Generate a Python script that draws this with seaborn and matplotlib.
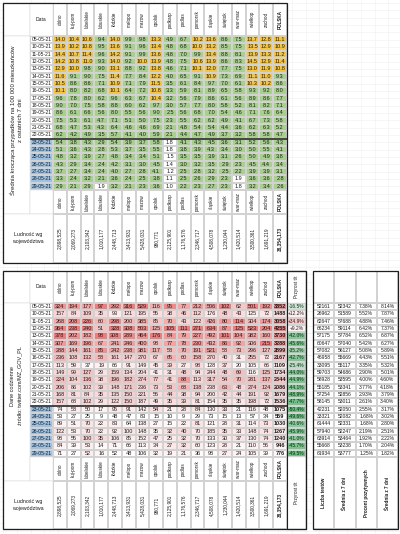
import matplotlib

matplotlib.use("Agg")
import matplotlib.pyplot as plt
import numpy as np
import seaborn as sns
from matplotlib.colors import LinearSegmentedColormap, ListedColormap, TwoSlopeNorm
from matplotlib.patches import Rectangle

# --------------------------------------------------------------------------- #
# Data
# --------------------------------------------------------------------------- #
dates = ["05-05-21", "10-05-21", "11-05-21", "12-05-21", "13-05-21", "14-05-21",
         "15-05-21", "16-05-21", "17-05-21", "18-05-21", "19-05-21", "20-05-21",
         "21-05-21", "22-05-21", "23-05-21", "24-05-21", "25-05-21", "26-05-21",
         "27-05-21", "28-05-21", "29-05-21"]
regions = ["dolno", "kuj-pom", "lubelskie", "lubuskie", "łódzkie", "małopo", "mazow",
           "opolsk", "podkarp", "podlas", "pomorsk", "śląskie", "świętok", "war-maz",
           "wielkop", "zachod", "POLSKA"]
population = ["2,898,525", "2,069,273", "2,103,342", "1,010,177", "2,448,713",
              "3,413,931", "5,428,031", "980,771", "2,125,901", "1,176,576",
              "2,346,717", "4,508,078", "1,230,044", "1,420,514", "3,500,361",
              "1,691,219", "38,354,173"]

# 7-day average of cases per 100k inhabitants (last column = POLSKA)
avg7_per100k = [
    [14.0, 10.4, 10.6, 9.4, 14.0, 9.9, 9.8, 13.3, 4.9, 6.7, 10.2, 13.6, 8.6, 7.5, 13.7, 12.8, 11.1],
    [13.9, 10.2, 10.8, 9.5, 13.6, 9.1, 9.6, 13.4, 4.8, 6.8, 10.0, 13.2, 8.5, 7.5, 13.5, 12.9, 10.9],
    [14.4, 10.7, 11.4, 9.6, 14.2, 9.1, 9.9, 13.6, 4.8, 7.0, 9.9, 13.4, 8.8, 8.1, 13.9, 13.3, 11.2],
    [14.2, 10.8, 11.0, 9.3, 14.0, 9.2, 10.0, 13.9, 4.8, 7.5, 10.6, 13.9, 8.6, 8.3, 14.5, 12.9, 11.4],
    [12.9, 10.0, 9.8, 9.0, 13.1, 8.8, 9.2, 13.8, 4.6, 7.1, 10.1, 12.0, 7.7, 7.5, 13.0, 11.9, 10.8],
    [11.6, 9.1, 9.0, 7.5, 11.4, 7.7, 8.4, 12.2, 4.0, 6.5, 9.1, 10.9, 7.3, 6.9, 11.1, 11.0, 9.3],
    [10.5, 8.6, 8.6, 7.1, 10.9, 7.1, 7.9, 11.5, 3.5, 6.1, 8.4, 9.7, 7.0, 6.1, 10.3, 10.2, 8.6],
    [10.1, 8.0, 8.2, 6.8, 10.1, 6.4, 7.2, 10.8, 3.3, 5.9, 8.1, 8.9, 6.5, 5.8, 9.3, 9.2, 8.0],
    [9.6, 7.8, 8.0, 6.2, 9.6, 6.3, 6.7, 10.4, 3.2, 5.6, 7.9, 8.6, 6.1, 5.6, 8.9, 8.6, 7.7],
    [9.0, 7.0, 7.5, 5.8, 8.8, 6.0, 6.2, 9.7, 3.0, 5.7, 7.7, 8.0, 5.8, 5.2, 8.1, 8.2, 7.1],
    [8.6, 6.1, 6.6, 5.6, 8.0, 5.5, 5.6, 9.0, 2.5, 5.6, 6.8, 7.0, 5.4, 4.6, 7.1, 7.6, 6.4],
    [7.5, 5.3, 6.1, 4.7, 7.1, 5.1, 5.0, 7.5, 2.3, 5.5, 6.2, 6.2, 4.9, 4.1, 6.7, 7.3, 5.8],
    [6.8, 4.7, 5.3, 4.3, 6.4, 4.6, 4.6, 6.9, 2.1, 4.8, 5.4, 5.4, 4.4, 3.6, 6.2, 6.3, 5.2],
    [6.2, 4.2, 4.9, 3.5, 5.7, 4.1, 4.0, 5.9, 2.1, 4.4, 4.7, 4.9, 3.7, 3.2, 5.8, 5.8, 4.7],
    [5.4, 3.8, 4.3, 2.9, 5.4, 3.9, 3.7, 5.8, 1.8, 4.1, 4.3, 4.5, 3.6, 3.1, 5.2, 5.6, 4.3],
    [5.1, 3.6, 4.3, 2.8, 5.3, 3.7, 3.5, 5.5, 1.8, 3.8, 3.9, 4.3, 3.4, 3.0, 5.0, 5.5, 4.1],
    [4.8, 3.2, 3.9, 2.7, 4.8, 3.4, 3.4, 5.1, 1.5, 3.5, 3.5, 3.9, 3.1, 2.6, 5.0, 4.9, 3.8],
    [4.3, 2.9, 3.4, 2.4, 4.2, 3.1, 3.0, 4.5, 1.4, 3.0, 3.2, 3.5, 2.9, 2.3, 4.5, 4.4, 3.4],
    [3.7, 2.7, 3.4, 2.4, 4.0, 2.7, 2.8, 4.1, 1.2, 2.5, 2.8, 3.2, 2.5, 2.2, 3.9, 3.9, 3.1],
    [3.3, 2.4, 3.2, 2.1, 3.6, 2.4, 2.5, 3.8, 1.1, 2.5, 2.6, 2.9, 2.3, 1.9, 3.6, 3.6, 2.8],
    [2.9, 2.1, 2.9, 1.9, 3.2, 2.1, 2.3, 3.6, 1.0, 2.2, 2.3, 2.7, 2.3, 1.8, 3.2, 3.4, 2.6],
]

# daily new cases per voivodeship
daily_cases = [
    [324, 194, 177, 97, 292, 316, 529, 116, 95, 77, 212, 506, 102, 62, 501, 192],
    [157, 84, 109, 35, 93, 121, 195, 55, 38, 46, 112, 176, 48, 43, 125, 72],
    [268, 208, 226, 60, 298, 200, 385, 85, 70, 43, 122, 426, 80, 114, 304, 174],
    [364, 238, 240, 51, 328, 308, 503, 125, 105, 111, 271, 634, 87, 125, 523, 204],
    [378, 202, 182, 98, 308, 289, 464, 176, 84, 79, 227, 492, 101, 104, 382, 160],
    [307, 169, 196, 67, 241, 246, 400, 98, 77, 78, 230, 432, 86, 92, 306, 215],
    [288, 144, 161, 85, 242, 238, 381, 117, 58, 70, 191, 521, 58, 73, 296, 127],
    [236, 108, 132, 58, 161, 147, 270, 67, 65, 60, 158, 270, 40, 31, 255, 72],
    [113, 59, 37, 19, 66, 91, 149, 45, 39, 27, 98, 128, 37, 20, 105, 66],
    [149, 99, 127, 29, 159, 134, 204, 41, 31, 48, 94, 244, 48, 69, 116, 125],
    [224, 104, 136, 38, 196, 182, 274, 77, 41, 88, 113, 317, 54, 70, 281, 137],
    [206, 86, 102, 39, 148, 171, 236, 73, 53, 68, 138, 238, 63, 48, 274, 124],
    [168, 81, 84, 35, 135, 150, 221, 56, 44, 38, 94, 200, 42, 44, 191, 92],
    [157, 68, 102, 29, 122, 150, 187, 49, 35, 39, 81, 154, 35, 35, 198, 72],
    [74, 58, 50, 17, 95, 91, 142, 54, 21, 28, 84, 130, 33, 21, 116, 48],
    [53, 27, 25, 9, 48, 47, 83, 15, 10, 9, 29, 73, 15, 13, 57, 34],
    [89, 51, 70, 22, 83, 64, 138, 27, 15, 22, 81, 121, 28, 31, 114, 73],
    [122, 53, 70, 22, 92, 100, 148, 35, 32, 40, 70, 185, 35, 33, 148, 74],
    [98, 55, 100, 35, 106, 85, 152, 47, 25, 32, 70, 133, 30, 37, 130, 74],
    [84, 39, 53, 14, 71, 66, 113, 34, 27, 32, 60, 123, 28, 21, 110, 56],
    [71, 27, 52, 16, 52, 48, 106, 32, 19, 21, 36, 98, 27, 24, 105, 39],
]
daily_total = [3852, 1488, 3058, 4255, 3730, 3288, 2899, 2167, 1109, 1734, 2344,
               2086, 1679, 1536, 1075, 559, 1030, 1267, 1240, 946, 776]
week_change = [-16.5, 12.2, 34.9, 9.2, -42.0, -45.6, -35.2, -42.7, -25.4, -44.0, -44.9,
               -44.1, -48.9, -47.7, -50.4, -49.6, -40.6, -45.9, -41.0, -45.7, -49.5]

tests = [52161, 26962, 62647, 66234, 57175, 60647, 57082, 46958, 33095, 59703, 58928,
         55185, 57254, 58145, 42231, 33321, 61444, 57940, 63914, 55668, 61934]
tests_avg7 = [52342, 51589, 57688, 59114, 57784, 57040, 56127, 55669, 55117, 54686, 53595,
              53341, 52856, 53011, 52050, 52082, 52331, 52247, 53464, 53238, 53777]
positive_pct = [7.38, 5.52, 4.88, 6.42, 6.52, 5.42, 5.08, 4.43, 3.35, 2.90, 4.00,
                3.77, 2.93, 2.61, 2.55, 1.68, 1.68, 2.19, 1.92, 1.70, 1.25]
positive_avg7 = [8.14, 7.87, 7.46, 7.37, 6.87, 6.27, 5.89, 5.51, 5.32, 5.01, 4.60,
                 4.18, 3.79, 3.40, 3.17, 3.02, 2.80, 2.51, 2.22, 2.04, 1.82]
test_labels = ["Liczba testów", "Średnia z 7 dni", "Procent pozytywnych", "Średnia z 7 dni"]

# --------------------------------------------------------------------------- #
# Layout (pixel grid of the 400x534 sheet)
# --------------------------------------------------------------------------- #
W, H = 400, 534
RH = 7.33            # row height
X0, XD, XV = 3, 30, 53
XP = XV + 13.76 * 17  # end of POLSKA column
XR = 306              # end of "Przyrost" column
N = len(dates)
SPLIT = dates.index("23-05-21")

YELLOW, GREEN, BLUE = "#f5c542", "#a8d08d", "#9bc2e6"
GRID, INK = "#d2d2d2", "#1e1e1e"
WHITE = ListedColormap(["white"])

plt.rcParams["font.family"] = ["Liberation Sans", "DejaVu Sans"]
fig = plt.figure(figsize=(W / 100, H / 100), dpi=100)

# faint spreadsheet gridlines behind everything
bg = fig.add_axes([0, 0, 1, 1], zorder=-1)
bg.set_xlim(0, W)
bg.set_ylim(H, 0)
bg.axis("off")
for y in np.arange(3, H, RH):
    bg.axhline(y, color="#efefef", lw=0.4)
for x in np.arange(3, W, 13.76):
    bg.axvline(x, color="#efefef", lw=0.4)


def px_axes(x0, y0, x1, y1):
    return fig.add_axes([x0 / W, 1 - y1 / H, (x1 - x0) / W, (y1 - y0) / H])


def cells(box, values, cmap, annot, size=4.0, rotation=0, bold_cols=(), weight="normal", **kws):
    ax = px_axes(*box)
    values = np.asarray(values, dtype=float)
    sns.heatmap(values, ax=ax, cmap=cmap, annot=np.asarray(annot), fmt="", cbar=False,
                linewidths=0.3, linecolor=GRID, xticklabels=False, yticklabels=False,
                annot_kws={"size": size, "color": INK, "fontweight": weight}, **kws)
    ncol = values.shape[1]
    for k, t in enumerate(ax.texts):
        t.set_rotation(rotation)
        if k % ncol in bold_cols:
            t.set_fontweight("bold")
    ax.tick_params(length=0)
    return ax


def merged(x0, y0, x1, y1, text="", size=3.8, rotation=0, weight="normal", ty=None):
    fig.add_artist(Rectangle((x0 / W, 1 - y1 / H), (x1 - x0) / W, (y1 - y0) / H,
                             transform=fig.transFigure, facecolor="white",
                             edgecolor=GRID, lw=0.3, zorder=1))
    if text:
        ty = (y0 + y1) / 2 if ty is None else ty
        fig.text((x0 + x1) / 2 / W, 1 - ty / H, text, ha="center", va="center",
                 rotation=rotation, fontsize=size, fontweight=weight, color=INK,
                 linespacing=1.5, zorder=3)


def box(x0, y0, x1, y1, lw=0.9):
    fig.add_artist(Rectangle((x0 / W, 1 - y1 / H), (x1 - x0) / W, (y1 - y0) / H,
                             transform=fig.transFigure, fill=False,
                             edgecolor=INK, lw=lw, zorder=5))


def header_row(y0, y1, labels, size=3.3):
    cells((XV, y0, XP, y1), np.zeros((1, len(labels))), WHITE, [labels],
          size=size, rotation=90, bold_cols=(len(labels) - 1,))


date_codes = [[0] if i < SPLIT else [1] for i in range(N)]
date_cmap = ListedColormap(["white", BLUE])

# --------------------------------------------------------------------------- #
# Top table: 7-day average per 100k
# --------------------------------------------------------------------------- #
T0, T1 = 3, 36
TR = T1 + N * RH
merged(X0, T0, XD, T1)
merged(XD, T0, XV, T1, "Data", size=3.6)
header_row(T0, T1, regions)
merged(X0, T1, XD, TR + 24,
       "Średnia krocząca przypadków na 100 000 mieszkańców\nz ostatnich 7 dni",
       size=4.3, rotation=90, ty=120)
ax = cells((XD, T1, XV, TR), date_codes, date_cmap, [[d] for d in dates], size=3.6)
ax.axhline(SPLIT, color=INK, lw=1.1)

avg = np.array(avg7_per100k)
ax = cells((XV, T1, XP, TR), np.digitize(avg, [2, 10]),
           ListedColormap(["white", GREEN, YELLOW]),
           [[f"{v:.1f}" for v in row] for row in avg7_per100k], vmin=-0.5, vmax=2.5)
ax.axhline(SPLIT, color=INK, lw=1.1)

merged(XD, TR, XV, TR + 24)
header_row(TR, TR + 24, regions)
merged(X0, TR + 24, XV, 263, "Ludność wg\nwojewództwa", size=3.8)
cells((XV, TR + 24, XP, 263), np.zeros((1, 17)), WHITE, [population],
      size=3.4, rotation=90, bold_cols=(16,))
box(X0, T0, XP, 263)

# --------------------------------------------------------------------------- #
# Bottom table: daily cases
# --------------------------------------------------------------------------- #
B0, B1 = 271, 303
BR = B1 + N * RH
merged(X0, B0, XD, B1)
merged(XD, B0, XV, B1, "Data", size=3.6)
header_row(B0, B1, regions)
merged(XP, B0, XR, B1, "Przyrost t/t", size=3.3, rotation=90)
merged(X0, B1, XD, BR + 24, "Dane codzienne\nźródło: twitter.com/MZ_GOV_PL",
       size=4.0, rotation=90, ty=386)
ax = cells((XD, B1, XV, BR), date_codes, date_cmap, [[d] for d in dates], size=3.6)
ax.axhline(SPLIT, color=INK, lw=1.1)

cases = np.column_stack([np.array(daily_cases), daily_total])
scaled = (cases - cases.min(axis=0)) / (cases.max(axis=0) - cases.min(axis=0))
reds = LinearSegmentedColormap.from_list("reds", ["#ffffff", "#f27a7b"])
ax = cells((XV, B1, XP, BR), scaled, reds, [[str(v) for v in row] for row in cases],
           vmin=0, vmax=1, bold_cols=(16,))
ax.axhline(SPLIT, color=INK, lw=1.1)

change_cmap = LinearSegmentedColormap.from_list("chg", ["#63be7b", "#ffffff", "#f8696b"])
cells((XP, B1, XR, BR), np.array(week_change)[:, None], change_cmap,
      [[f"{v:+.1f}%"] for v in week_change], size=3.5,
      norm=TwoSlopeNorm(vmin=-52, vcenter=0, vmax=100))

merged(XD, BR, XV, BR + 24)
header_row(BR, BR + 24, regions)
merged(X0, BR + 24, XV, 529, "Ludność wg\nwojewództwa", size=3.8)
cells((XV, BR + 24, XP, 529), np.zeros((1, 17)), WHITE, [population],
      size=3.4, rotation=90, bold_cols=(16,))
merged(XP, BR, XR, 529, "Przyrost t/t", size=3.3, rotation=90)
box(X0, B0, XR, 529)
box(XP, B0, XR, 529, lw=0.8)

# --------------------------------------------------------------------------- #
# Right table: tests and positivity
# --------------------------------------------------------------------------- #
RX0, RX1 = 313, 398
cells((RX0, B0, RX1, B1), np.zeros((1, 4)), WHITE, [[""] * 4])
test_annot = [[str(a), str(b), f"{c:.2f}%", f"{d:.2f}%"]
              for a, b, c, d in zip(tests, tests_avg7, positive_pct, positive_avg7)]
cells((RX0, B1, RX1, BR), np.zeros((N, 4)), WHITE, test_annot, size=3.6)
cells((RX0, BR, RX1, 529), np.zeros((1, 4)), WHITE, [test_labels],
      size=3.3, rotation=90, weight="bold")
box(RX0, B0, RX1, 529)

fig.savefig("out.png", dpi=100)
